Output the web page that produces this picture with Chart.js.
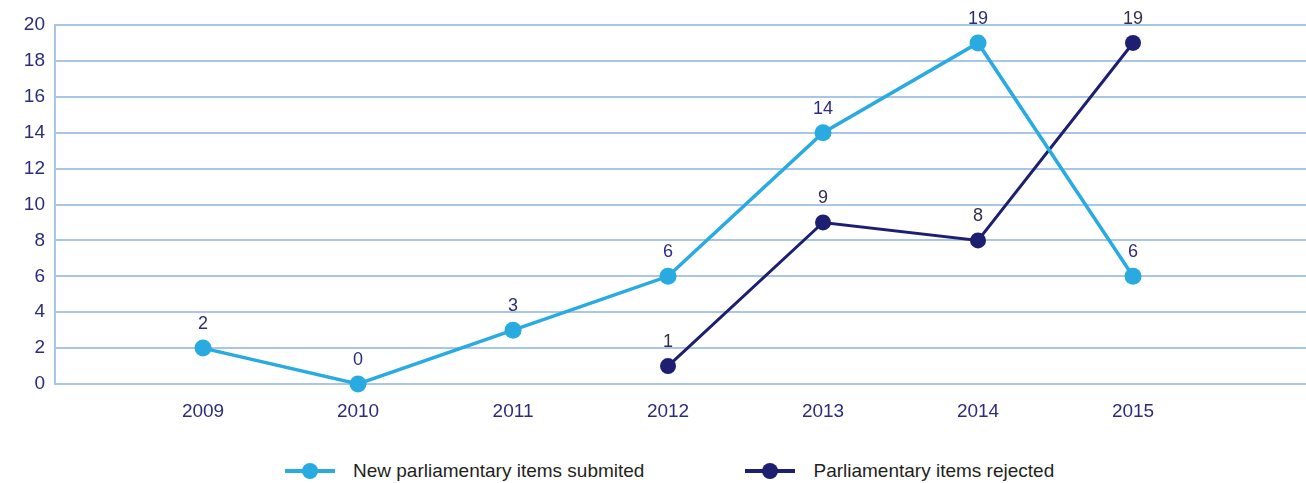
<!DOCTYPE html>
<html>
<head>
<meta charset="utf-8">
<script src="https://cdn.jsdelivr.net/npm/chart.js@4.4.1/dist/chart.umd.min.js"></script>
<style>
    body { margin: 0; background: #fff; font-family: "Liberation Sans", Arial, sans-serif; overflow: hidden; }
    #wrap { position: relative; width: 1306px; height: 483px; }
    #lineChart { position: absolute; left: 0; top: 0; }
    #legend { position: absolute; left: 285px; top: 460px; display: flex; gap: 101px; align-items: center; }
    .legend-item { display: flex; align-items: center; font-size: 19px; color: #231f20; line-height: 22px; }
    .legend-icon { position: relative; width: 50px; height: 18px; margin-right: 18px; }
    .legend-icon .line { position: absolute; left: 0; right: 0; top: 7px; height: 4px; }
    .legend-icon .dot { position: absolute; left: 17px; top: 1px; width: 16px; height: 16px; border-radius: 50%; }
</style>
</head>
<body>
<div id="wrap">
    <canvas id="lineChart" width="1306" height="430"></canvas>
    <div id="legend"></div>
</div>
<script>
// Data
const years = [2009, 2010, 2011, 2012, 2013, 2014, 2015];
const submitted = [2, 0, 3, 6, 14, 19, 6];
const rejected = [null, null, null, 1, 9, 8, 19];
const seriesNames = ['New parliamentary items submited', 'Parliamentary items rejected'];
const yTicks = [0, 2, 4, 6, 8, 10, 12, 14, 16, 18, 20];

const LIGHT = '#29abe2';
const DARK = '#1d1f70';
const NAVY = '#2b2d7c';
const GRID = '#aac6e7';
const FONT = '"Liberation Sans", Arial, sans-serif';

// Small plugin to write each value above its point
const valueLabels = {
    id: 'valueLabels',
    afterDatasetsDraw(chart) {
        const ctx = chart.ctx;
        ctx.save();
        ctx.font = '18px ' + FONT;
        ctx.textAlign = 'center';
        ctx.textBaseline = 'middle';
        chart.data.datasets.forEach((ds, i) => {
            const meta = chart.getDatasetMeta(i);
            meta.data.forEach((pt, j) => {
                const v = ds.data[j].y;
                if (v === null) return;
                ctx.fillStyle = ds.labelColor;
                ctx.fillText(String(v), pt.x, pt.y - 24);
            });
        });
        ctx.restore();
    }
};

function toPoints(values) {
    return years.map((yr, i) => ({ x: yr, y: values[i] }));
}

function buildLegend(chart) {
    const legend = document.getElementById('legend');
    chart.data.datasets.forEach(ds => {
        const item = document.createElement('div');
        item.className = 'legend-item';
        item.innerHTML = `
            <span class="legend-icon">
                <span class="line" style="background:${ds.borderColor}"></span>
                <span class="dot" style="background:${ds.borderColor}"></span>
            </span>
            <span>${ds.label}</span>`;
        legend.appendChild(item);
    });
}

const ctx = document.getElementById('lineChart').getContext('2d');
const chart = new Chart(ctx, {
    type: 'line',
    data: {
        datasets: [{
            label: seriesNames[0],
            data: toPoints(submitted),
            borderColor: LIGHT,
            backgroundColor: LIGHT,
            borderWidth: 3.5,
            pointRadius: 8.5,
            pointHoverRadius: 8.5,
            pointBorderWidth: 0,
            clip: false,
            labelColor: NAVY
        }, {
            label: seriesNames[1],
            data: toPoints(rejected),
            borderColor: DARK,
            backgroundColor: DARK,
            borderWidth: 3,
            pointRadius: 8,
            pointHoverRadius: 8,
            pointBorderWidth: 0,
            clip: false,
            labelColor: '#2f2f4f'
        }]
    },
    options: {
        responsive: false,
        animation: false,
        layout: { autoPadding: false, padding: { top: 25, right: 0, bottom: 10, left: 0 } },
        plugins: {
            legend: { display: false },
            tooltip: { enabled: false }
        },
        scales: {
            x: {
                type: 'linear',
                min: 2008.045,
                max: 2016.116,
                afterBuildTicks: scale => { scale.ticks = years.map(v => ({ value: v })); },
                afterFit: scale => {
                    scale.height = 36;
                    scale.paddingLeft = 0;
                    scale.paddingRight = 0;
                },
                ticks: {
                    autoSkip: false,
                    maxRotation: 0,
                    padding: 8,
                    color: NAVY,
                    font: { family: FONT, size: 19 },
                    callback: v => String(v)
                },
                grid: { display: false },
                border: { display: true, color: GRID, width: 2 }
            },
            y: {
                min: 0,
                max: 20,
                afterFit: scale => { scale.width = 55; },
                afterBuildTicks: scale => { scale.ticks = yTicks.map(v => ({ value: v })); },
                ticks: {
                    padding: 10,
                    color: NAVY,
                    font: { family: FONT, size: 19 }
                },
                grid: { color: GRID, lineWidth: 2, drawTicks: false },
                border: { display: true, color: GRID, width: 2 }
            }
        }
    },
    plugins: [valueLabels]
});

buildLegend(chart);
</script>
</body>
</html>
